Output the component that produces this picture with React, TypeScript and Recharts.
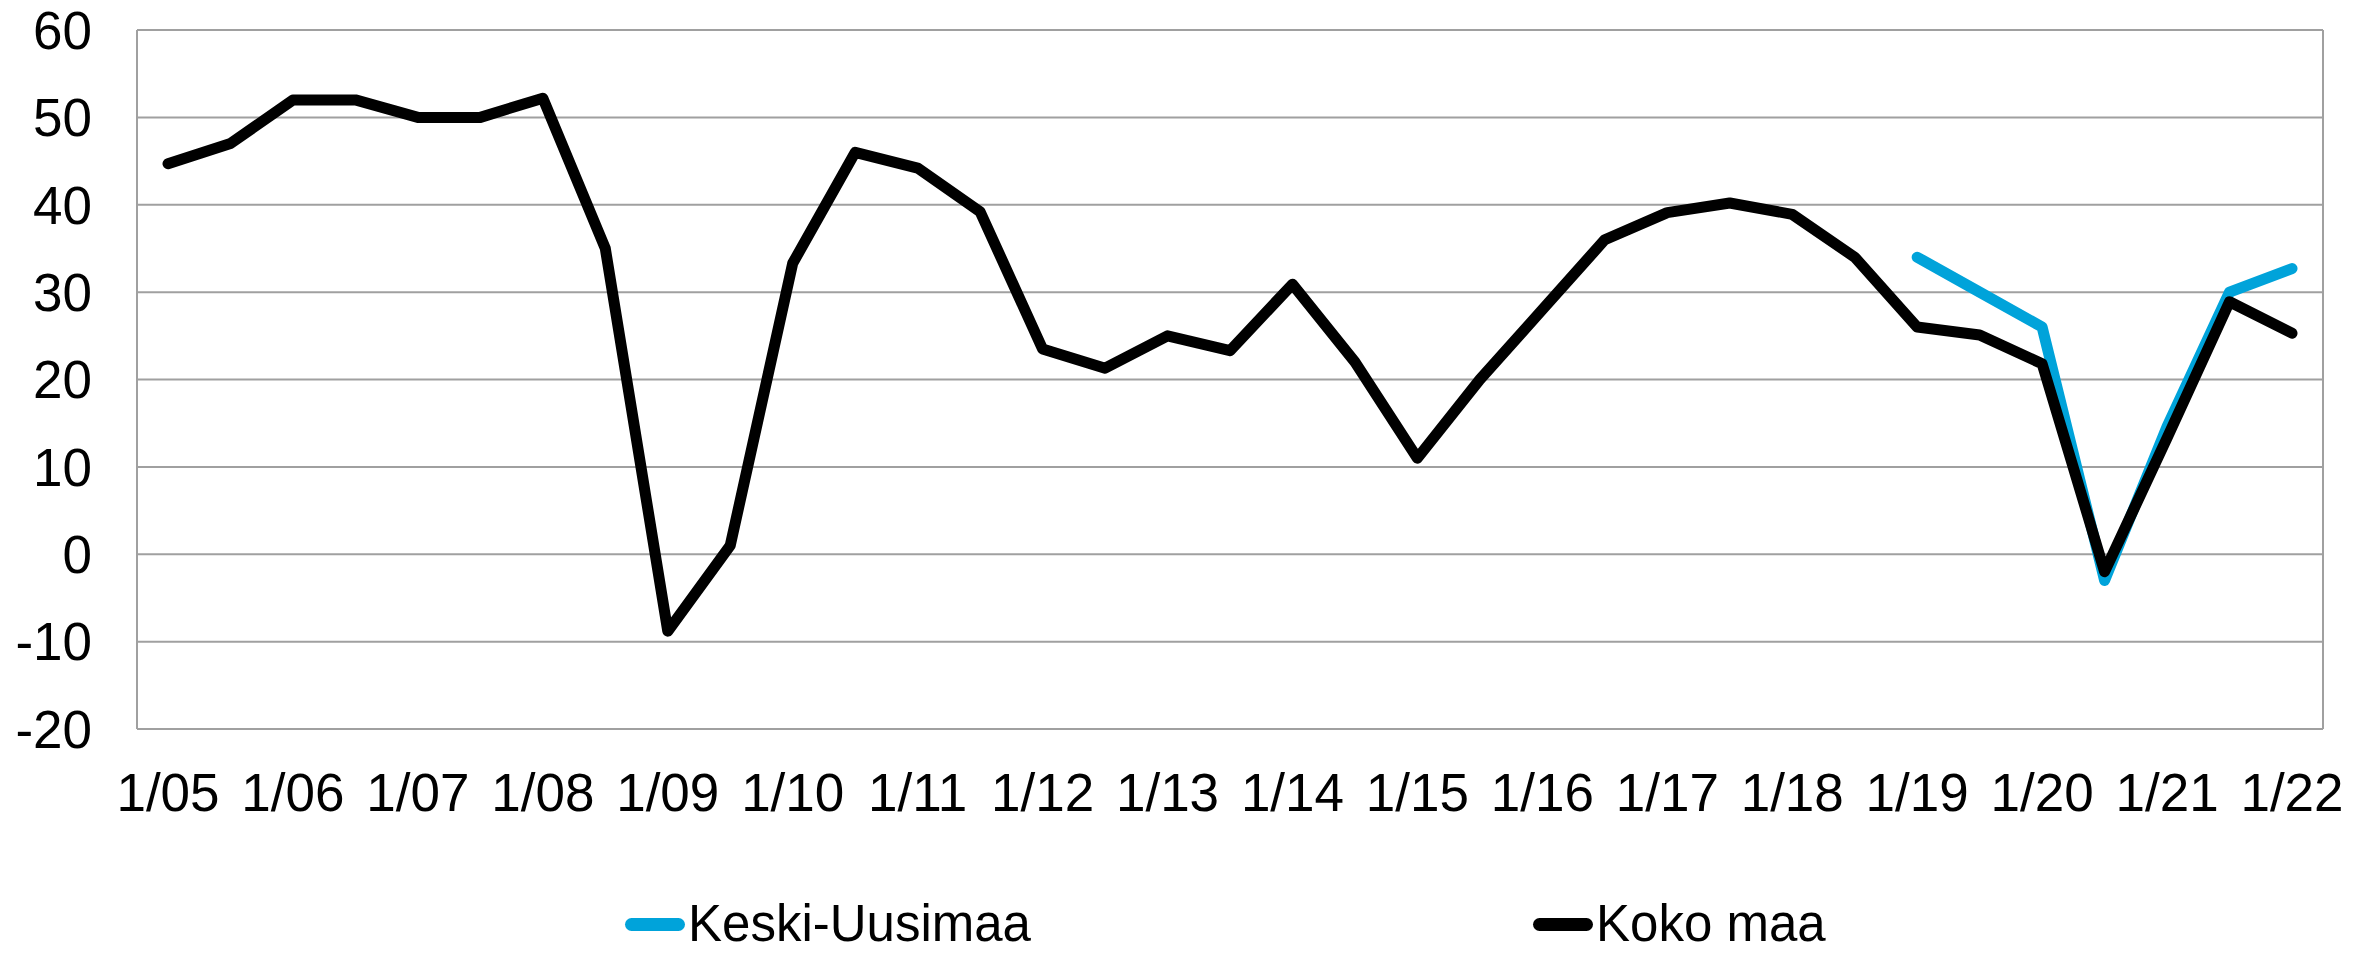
import React from "react";
import {
  LineChart,
  Line,
  XAxis,
  YAxis,
  CartesianGrid,
  Legend,
} from "recharts";

// half-year observations, 1/05 ... 1/22
const PERIODS = [
  "1/05", "7/05", "1/06", "7/06", "1/07", "7/07", "1/08", "7/08", "1/09", "7/09",
  "1/10", "7/10", "1/11", "7/11", "1/12", "7/12", "1/13", "7/13", "1/14", "7/14",
  "1/15", "7/15", "1/16", "7/16", "1/17", "7/17", "1/18", "7/18", "1/19", "7/19",
  "1/20", "7/20", "1/21", "7/21", "1/22",
];

const KOKO_MAA = [
  44.7, 47, 52, 52, 50, 50, 52.2, 35, -8.8, 1,
  33.3, 46, 44.2, 39.2, 23.5, 21.3, 25, 23.3, 30.9, 22,
  11, 20, 28, 36, 39.1, 40.2, 38.9, 34, 26, 25.1,
  21.8, -2, 13.3, 28.9, 25.3,
];

const KESKI_UUSIMAA: (number | null)[] = [
  null, null, null, null, null, null, null, null, null, null,
  null, null, null, null, null, null, null, null, null, null,
  null, null, null, null, null, null, null, null, 34, 30,
  26, -3, 14.6, 30, 32.7,
];

const X_TICKS = [
  "1/05", "1/06", "1/07", "1/08", "1/09", "1/10", "1/11", "1/12", "1/13",
  "1/14", "1/15", "1/16", "1/17", "1/18", "1/19", "1/20", "1/21", "1/22",
];

const Y_TICKS = [-20, -10, 0, 10, 20, 30, 40, 50, 60];

const BLUE = "#00a3da";
const GRID = "#a0a0a0";
const FONT = '"Liberation Sans", Arial, sans-serif';
const FONT_SIZE = 53;

const data = PERIODS.map((p, i) => ({
  period: p,
  koko: KOKO_MAA[i],
  keski: KESKI_UUSIMAA[i],
}));

function LegendContent() {
  const items = [
    { label: "Keski-Uusimaa", color: BLUE, left: 625 },
    { label: "Koko maa", color: "#000", left: 1533 },
  ];
  return (
    <div
      style={{
        position: "relative",
        height: 40,
        fontFamily: FONT,
        fontSize: 51,
        lineHeight: "40px",
        color: "#000",
      }}
    >
      {items.map((it) => (
        <div
          key={it.label}
          style={{
            position: "absolute",
            left: it.left,
            top: 0,
            display: "flex",
            alignItems: "center",
            whiteSpace: "nowrap",
          }}
        >
          <span
            style={{
              display: "inline-block",
              width: 60,
              height: 13,
              borderRadius: 7,
              background: it.color,
              marginRight: 3,
            }}
          />
          <span>{it.label}</span>
        </div>
      ))}
    </div>
  );
}

export default function App() {
  return (
    <div style={{ position: "absolute", left: 0, top: 0 }}>
      <LineChart
        width={2371}
        height={953}
        data={data}
        margin={{ top: 30, right: 0, left: 0, bottom: 124 }}
      >
        <CartesianGrid vertical={false} stroke={GRID} strokeWidth={2} />
        <XAxis
          dataKey="period"
          ticks={X_TICKS}
          interval={0}
          axisLine={false}
          tickLine={false}
          tickSize={0}
          tickMargin={44}
          height={100}
          padding={{ left: 31, right: 31 }}
          tick={{ fill: "#000", fontSize: FONT_SIZE, fontFamily: FONT }}
        />
        <YAxis
          domain={[-20, 60]}
          ticks={Y_TICKS}
          width={137}
          tickLine={false}
          tickSize={0}
          tickMargin={45}
          axisLine={{ stroke: GRID, strokeWidth: 2 }}
          tick={{ fill: "#000", fontSize: FONT_SIZE, fontFamily: FONT }}
        />
        <YAxis
          yAxisId="right"
          orientation="right"
          domain={[-20, 60]}
          ticks={Y_TICKS}
          width={48}
          tick={false}
          tickLine={false}
          axisLine={{ stroke: GRID, strokeWidth: 2 }}
        />
        <Legend
          verticalAlign="middle"
          align="center"
          content={<LegendContent />}
          wrapperStyle={{ top: 904, left: 0, width: 2371 }}
        />
        <Line
          type="linear"
          dataKey="keski"
          name="Keski-Uusimaa"
          stroke={BLUE}
          strokeWidth={11}
          strokeLinecap="round"
          strokeLinejoin="round"
          dot={false}
          activeDot={false}
          isAnimationActive={false}
        />
        <Line
          type="linear"
          dataKey="koko"
          name="Koko maa"
          stroke="#000"
          strokeWidth={11}
          strokeLinecap="round"
          strokeLinejoin="round"
          dot={false}
          activeDot={false}
          isAnimationActive={false}
        />
      </LineChart>
    </div>
  );
}
